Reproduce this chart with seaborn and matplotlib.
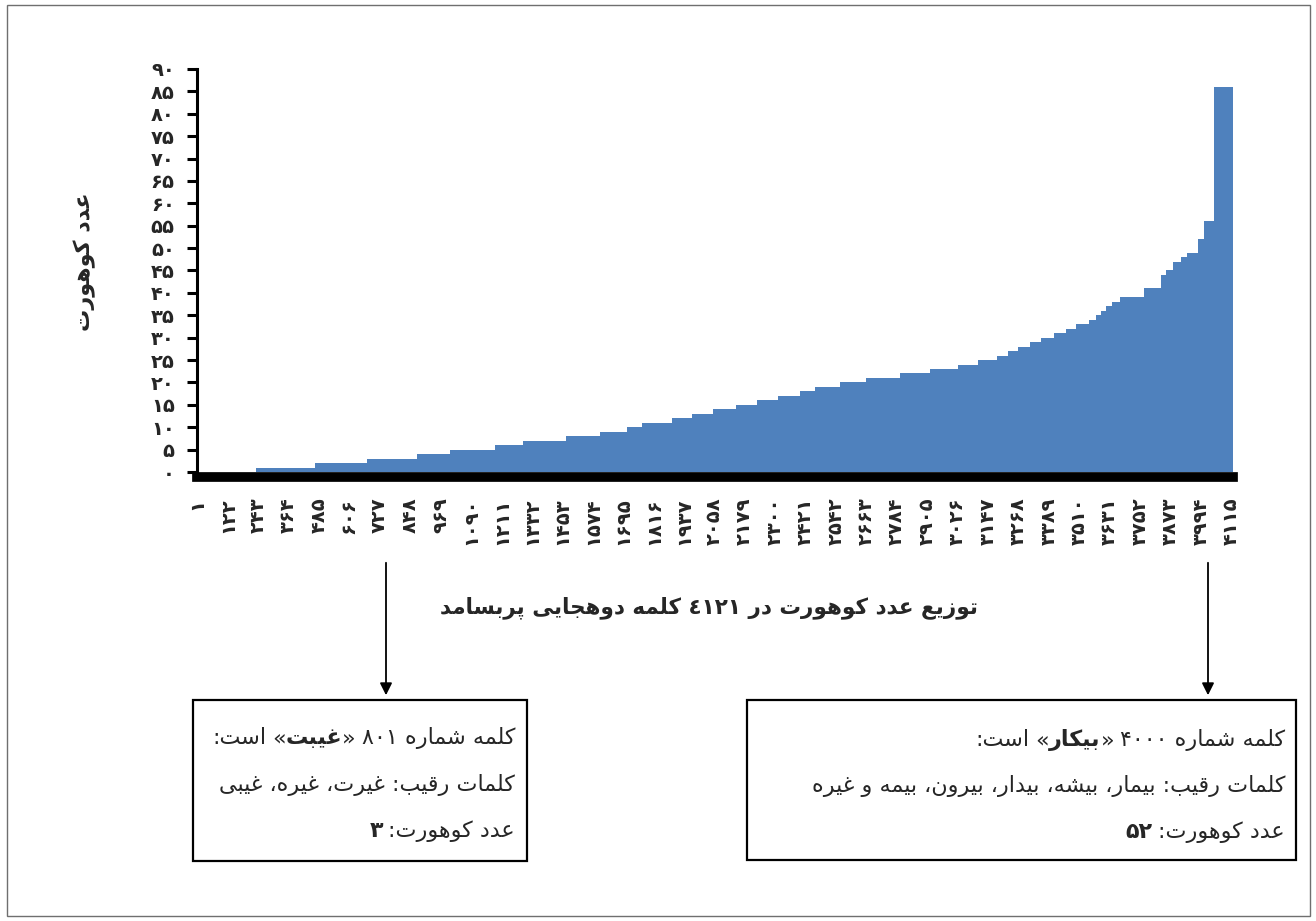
import re
import numpy as np
import pandas as pd
import seaborn as sns
import matplotlib.pyplot as plt
from matplotlib.patches import Rectangle, FancyArrowPatch

# cohort number of each of the 4121 words, sorted, stored as runs (value, how many words)
cohort_values = [0, 1, 2, 3, 4, 5, 6, 7, 8, 9, 10, 11, 12, 13, 14, 15, 16, 17, 18,
                 19, 20, 21, 22, 23, 24, 25, 26, 27, 28, 29, 30, 31, 32, 33, 34, 35,
                 36, 37, 38, 39, 41, 44, 45, 47, 48, 49, 52, 56, 86]
word_counts = [235, 235, 207, 199, 131, 179, 111, 171, 135, 107, 60, 119, 80, 84,
               91, 84, 84, 88, 60, 99, 103, 135, 119, 111, 80, 76, 44, 40, 48, 44,
               48, 48, 40, 52, 28, 20, 20, 24, 32, 95, 68, 20, 28, 32, 24, 44, 24,
               40, 75]

tick_words = [1, 122, 243, 364, 485, 606, 727, 848, 969, 1090, 1211, 1332, 1453,
              1574, 1695, 1816, 1937, 2058, 2179, 2300, 2421, 2542, 2663, 2784,
              2905, 3026, 3147, 3268, 3389, 3510, 3631, 3752, 3873, 3994, 4115]
y_ticks = [0, 5, 10, 15, 20, 25, 30, 35, 40, 45, 50, 55, 60, 65, 70, 75, 80, 85, 90]

y_title = 'عدد کوهورت'
x_title = 'توزیع عدد کوهورت در ٤١٢١ کلمه دوهجایی پربسامد'

left_box = [
    [('کلمه شماره ۸۰۱', False), ' ', ('«', False), ('غیبت', True), ('»', False), ' ', ('است:', False)],
    [('کلمات رقیب: غیرت، غیره، غیبی', False)],
    [('عدد کوهورت:', False), ' ', ('۳', True)],
]
right_box = [
    [('کلمه شماره ۴۰۰۰', False), ' ', ('«', False), ('بیکار', True), ('»', False), ' ', ('است:', False)],
    [('کلمات رقیب: بیمار، بیشه، بیدار، بیرون، بیمه و غیره', False)],
    [('عدد کوهورت:', False), ' ', ('۵۲', True)],
]

# --- persian shaping (matplotlib has no complex text layout) ---
# isolated, final, initial, medial
FORMS = {
    'ا': ('\uFE8D', '\uFE8E', None, None), 'آ': ('\uFE81', '\uFE82', None, None),
    'ب': ('\uFE8F', '\uFE90', '\uFE91', '\uFE92'), 'پ': ('\uFB56', '\uFB57', '\uFB58', '\uFB59'),
    'ت': ('\uFE95', '\uFE96', '\uFE97', '\uFE98'), 'ث': ('\uFE99', '\uFE9A', '\uFE9B', '\uFE9C'),
    'ج': ('\uFE9D', '\uFE9E', '\uFE9F', '\uFEA0'), 'چ': ('\uFB7A', '\uFB7B', '\uFB7C', '\uFB7D'),
    'ح': ('\uFEA1', '\uFEA2', '\uFEA3', '\uFEA4'), 'خ': ('\uFEA5', '\uFEA6', '\uFEA7', '\uFEA8'),
    'د': ('\uFEA9', '\uFEAA', None, None), 'ذ': ('\uFEAB', '\uFEAC', None, None),
    'ر': ('\uFEAD', '\uFEAE', None, None), 'ز': ('\uFEAF', '\uFEB0', None, None),
    'ژ': ('\uFB8A', '\uFB8B', None, None),
    'س': ('\uFEB1', '\uFEB2', '\uFEB3', '\uFEB4'), 'ش': ('\uFEB5', '\uFEB6', '\uFEB7', '\uFEB8'),
    'ع': ('\uFEC9', '\uFECA', '\uFECB', '\uFECC'), 'غ': ('\uFECD', '\uFECE', '\uFECF', '\uFED0'),
    'ف': ('\uFED1', '\uFED2', '\uFED3', '\uFED4'), 'ق': ('\uFED5', '\uFED6', '\uFED7', '\uFED8'),
    'ک': ('\uFB8E', '\uFB8F', '\uFB90', '\uFB91'), 'گ': ('\uFB92', '\uFB93', '\uFB94', '\uFB95'),
    'ل': ('\uFEDD', '\uFEDE', '\uFEDF', '\uFEE0'), 'م': ('\uFEE1', '\uFEE2', '\uFEE3', '\uFEE4'),
    'ن': ('\uFEE5', '\uFEE6', '\uFEE7', '\uFEE8'), 'و': ('\uFEED', '\uFEEE', None, None),
    'ه': ('\uFEE9', '\uFEEA', '\uFEEB', '\uFEEC'), 'ی': ('\uFBFC', '\uFBFD', '\uFBFE', '\uFBFF'),
}


def rtl(s):
    out = []
    for i, c in enumerate(s):
        if c not in FORMS:
            out.append(c)
            continue
        f = FORMS[c]
        prev = s[i - 1] if i > 0 else ''
        nxt = s[i + 1] if i + 1 < len(s) else ''
        jp = prev in FORMS and FORMS[prev][2] is not None
        jn = f[2] is not None and nxt in FORMS
        if jp and jn:
            out.append(f[3])
        elif jp:
            out.append(f[1])
        elif jn:
            out.append(f[2])
        else:
            out.append(f[0])
    rev = ''.join(out)[::-1]
    rev = re.sub('[0-9\u06F0-\u06F9\u0660-\u0669]+', lambda m: m.group(0)[::-1], rev)
    return rev.translate(str.maketrans('«»()', '»«)('))


def fa(n):
    return str(n).translate(str.maketrans('0123456789', '۰۱۲۳۴۵۶۷۸۹'))


sns.set_style('white')
plt.rcParams['font.family'] = ['DejaVu Sans']

W, H = 1316, 921
fig = plt.figure(figsize=(W / 100, H / 100), dpi=100)

df = pd.DataFrame({'word': np.arange(1, sum(word_counts) + 1),
                   'cohort': np.repeat(cohort_values, word_counts)})

ax = fig.add_axes([197 / W, 1 - 472 / H, 1036 / W, 403 / H])
sns.barplot(data=df, x='word', y='cohort', native_scale=True, width=1,
            color='#4F81BD', saturation=1, errorbar=None, linewidth=0,
            antialiased=False, ax=ax)
ax.set_xlim(0.5, len(df) + 0.5)
ax.set_ylim(0, 90)
ax.set_xlabel('')
ax.set_ylabel('')

for s in ['top', 'right']:
    ax.spines[s].set_visible(False)
ax.spines['left'].set_linewidth(2.2)
ax.spines['left'].set_color('black')
ax.spines['bottom'].set_linewidth(7)
ax.spines['bottom'].set_color('black')
ax.spines['bottom'].set_position(('outward', 3.5))

ax.set_yticks(y_ticks, labels=[fa(v) for v in y_ticks], fontweight='bold', fontsize=14)
ax.set_xticks(tick_words, labels=[fa(v) for v in tick_words], rotation=90,
              fontweight='bold', fontsize=14)
ax.tick_params(axis='y', length=7, width=2.2, color='black', pad=9, left=True)
ax.tick_params(axis='x', length=0, pad=15)

fig.text(85 / W, 1 - 262 / H, rtl(y_title), rotation=90, ha='center', va='center',
         fontweight='bold', fontsize=16)
fig.text(709 / W, 1 - 608 / H, rtl(x_title), ha='center', va='center',
         fontweight='bold', fontsize=15.5)

# outer chart frame
fig.add_artist(Rectangle((7 / W, 1 - 916 / H), 1303 / W, 911 / H, transform=fig.transFigure,
                         fill=False, lw=1, ec='#6f6f6f'))

# arrows to the boxes
for xa in [386, 1208]:
    fig.add_artist(FancyArrowPatch((xa / W, 1 - 560 / H), (xa / W, 1 - 698 / H),
                                   transform=fig.transFigure, arrowstyle='-|>',
                                   mutation_scale=18, lw=1.3, color='black'))

# boxes
fig.add_artist(Rectangle((193 / W, 1 - 861 / H), 334 / W, 161 / H, transform=fig.transFigure,
                         fill=False, lw=1.6, ec='black'))
fig.add_artist(Rectangle((747 / W, 1 - 860 / H), 549 / W, 160 / H, transform=fig.transFigure,
                         fill=False, lw=1.6, ec='black'))

renderer = fig.canvas.get_renderer()


def rtl_line(x_right, y, pieces, size=16):
    x = x_right
    for p in pieces:
        if p == ' ':
            x -= size * 0.35
            continue
        txt, bold = p
        t = fig.text(x / W, 1 - y / H, rtl(txt), ha='right', va='center', fontsize=size,
                     fontweight='bold' if bold else 'normal')
        x -= t.get_window_extent(renderer).width


for line, yl in zip(left_box, [738, 785, 831]):
    rtl_line(515, yl, line)
for line, yl in zip(right_box, [740, 786, 832]):
    rtl_line(1285, yl, line)

fig.savefig('out.png', dpi=100)
